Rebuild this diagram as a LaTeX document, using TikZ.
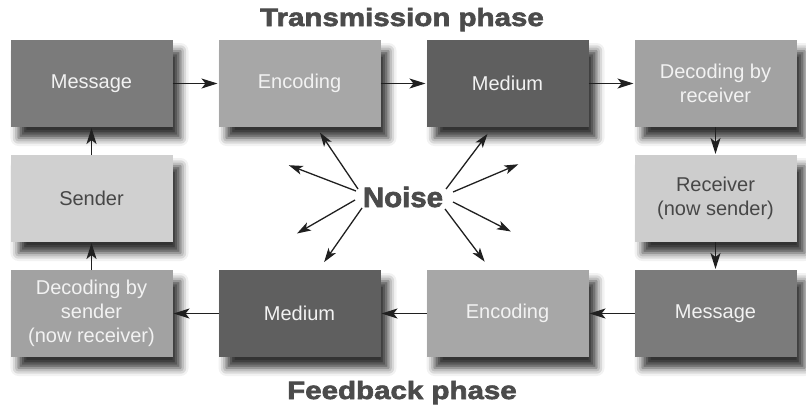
\documentclass[tikz,border=0pt]{standalone}
\usepackage{fontspec}
\setmainfont{Liberation Sans}
\newfontfamily\phasefont[FakeBold=2.5,FakeStretch=1.18]{Liberation Sans Bold}
\newfontfamily\noisefont[FakeBold=2.5,FakeStretch=1.05]{Liberation Sans Bold}
\usetikzlibrary{arrows.meta,positioning,shadows.blur}
\definecolor{msggray}{HTML}{7B7B7B}
\definecolor{encgray}{HTML}{A7A7A7}
\definecolor{medgray}{HTML}{5F5F5F}
\definecolor{decgray}{HTML}{A2A2A2}
\definecolor{sndgray}{HTML}{D0D0D0}
\definecolor{rcvgray}{HTML}{CDCDCD}
\definecolor{textgray}{HTML}{474747}
\definecolor{headgray}{HTML}{4B4B4B}
\definecolor{linegray}{HTML}{202020}

\begin{document}
\begin{tikzpicture}[x=1pt, y=1pt, node distance=28pt and 46pt, every node/.style={align=center, outer sep=0pt}, box/.style={minimum width=162pt, minimum height=87pt, inner sep=2pt, font=\fontsize{20}{24}\selectfont, blur shadow={shadow xshift=8pt, shadow yshift=-11pt, shadow blur radius=8pt, shadow opacity=80}}, filled/.style={box, fill=#1, text=white!95!black}, pale/.style={box, fill=#1, text=textgray}, phase/.style={font=\phasefont\fontsize{25}{28}\selectfont, text=headgray, anchor=base}, arrow/.style={-{Stealth[length=16pt, width=10pt, inset=4pt]}, line width=1.5pt, draw=linegray, shorten >=1pt}, ray/.style={-{Stealth[length=14pt, width=9pt, inset=3.5pt]}, line width=1.3pt, draw=linegray}]
\useasboundingbox (0,0) rectangle (806,-408);
\node[filled=msggray] (msg1) at (91.5,-83.5) {Message};
\node[filled=encgray, right=of msg1] (enc1) {Encoding};
\node[filled=medgray, right=of enc1] (med1) {Medium};
\node[filled=decgray, right=of med1] (dec1) {Decoding by\\receiver};
\node[pale=rcvgray, below=of dec1] (rcv) {Receiver\\(now sender)};
\node[filled=msggray, below=of rcv] (msg2) {Message};
\node[filled=encgray, left=of msg2] (enc2) {Encoding};
\node[filled=medgray, left=of enc2] (med2) {Medium};
\node[filled=decgray, left=of med2] (dec2) {Decoding by\\sender\\(now receiver)};
\node[pale=sndgray, above=of dec2] (snd) {Sender};
\node[phase] (tx) at (402,-26) {Transmission phase};
\node[phase] (fb) at (402,-399) {Feedback phase};
\node[font=\noisefont\fontsize{28}{30}\selectfont, text=headgray, anchor=base] (noise) at (403,-207) {Noise};
\draw[arrow] (msg1) -- (enc1);
\draw[arrow] (enc1) -- (med1);
\draw[arrow] (med1) -- (dec1);
\draw[arrow] (dec1) -- (rcv);
\draw[arrow] (rcv) -- (msg2);
\draw[arrow] (msg2) -- (enc2);
\draw[arrow] (enc2) -- (med2);
\draw[arrow] (med2) -- (dec2);
\draw[arrow] (dec2) -- (snd);
\draw[arrow] (snd) -- (msg1);
\foreach \k/\dx/\dy/\ang/\len in {1/-45/8/124/68, 2/-47/6/159/72, 3/-48/-3/210/67, 4/-41/-11/235/66, 5/43/8/53/69, 6/50/5/23/71, 7/50/-5/-27/65, 8/42/-12/-53/66}
  \draw[ray] ([shift={(\dx,\dy)}]noise.center) coordinate (from\k) -- ++(\ang:\len) coordinate (to\k);
\end{tikzpicture}
\end{document}
